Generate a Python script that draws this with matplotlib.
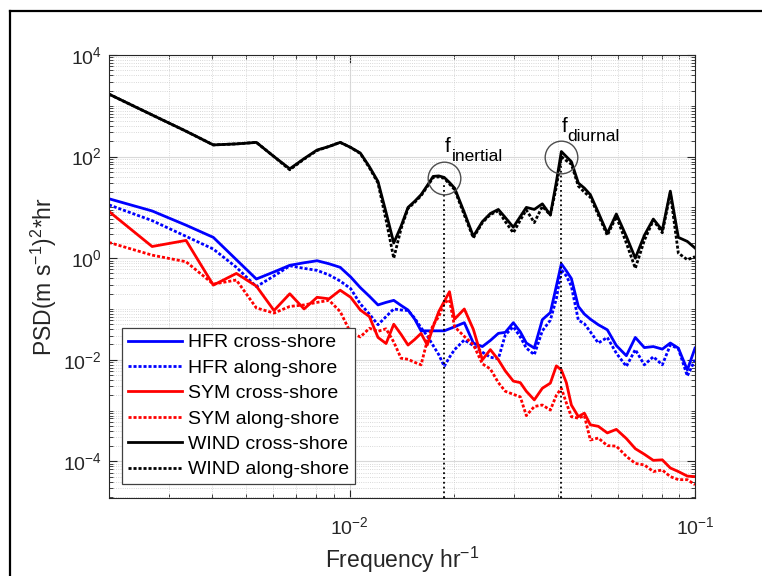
import numpy as np
import matplotlib
matplotlib.use("Agg")
import matplotlib.pyplot as plt
from matplotlib.lines import Line2D
from matplotlib.ticker import LogLocator, NullFormatter

plt.rcParams['font.family'] = 'Liberation Sans'
plt.rcParams['mathtext.default'] = 'regular'

# frequency grid (hr^-1)
freq = [0.00201, 0.00268, 0.00336, 0.00403, 0.00470, 0.00537, 0.00604, 0.00671, 0.00738, 0.00805,
        0.00872, 0.00939, 0.01007, 0.01074, 0.01141, 0.01208, 0.01275, 0.01342, 0.01409, 0.01476,
        0.01543, 0.01610, 0.01678, 0.01745, 0.01812, 0.01879, 0.01946, 0.02013,
        0.02148, 0.02281, 0.02423, 0.02555, 0.02695, 0.02823, 0.02978, 0.03120, 0.03248, 0.03425,
        0.03614, 0.03812, 0.03967, 0.04102, 0.04241, 0.04385, 0.04594, 0.04782, 0.04977, 0.05248,
        0.05573, 0.05918, 0.06326, 0.06716, 0.07133, 0.07573, 0.08040, 0.08482, 0.08947, 0.09500, 0.1]

# log10 of PSD
hfr_cross = [1.17, 0.93, 0.65, 0.41, -0.03, -0.41, -0.27, -0.14, -0.09, -0.05,
             -0.11, -0.18, -0.37, -0.58, -0.75, -0.92, -0.87, -0.83, -0.93, -1.02,
             -1.20, -1.43, -1.43, -1.43, -1.43, -1.43, -1.39, -1.35,
             -1.27, -1.67, -1.74, -1.62, -1.48, -1.46, -1.27, -1.45, -1.67, -1.77,
             -1.21, -1.07, -0.55, -0.11, -0.25, -0.40, -0.95, -1.10, -1.20, -1.31,
             -1.41, -1.72, -1.92, -1.56, -1.76, -1.74, -1.79, -1.67, -1.77, -2.20, -1.77]
hfr_along = [1.05, 0.74, 0.43, 0.18, -0.18, -0.56, -0.35, -0.15, -0.20, -0.24,
             -0.33, -0.45, -0.60, -0.90, -1.10, -1.31, -1.15, -1.00, -1.02, -1.03,
             -1.18, -1.37, -1.53, -1.72, -1.90, -2.13, -1.95, -1.80,
             -1.61, -1.72, -1.85, -1.95, -1.98, -1.51, -1.35, -1.55, -1.77, -1.90,
             -1.43, -1.22, -0.80, -0.23, -0.35, -0.55, -1.22, -1.29, -1.45, -1.67,
             -1.56, -1.87, -2.13, -1.80, -2.10, -1.94, -2.10, -1.71, -1.78, -2.32, -2.00]
sym_cross = [0.92, 0.23, 0.35, -0.53, -0.30, -0.55, -1.03, -0.70, -1.00, -0.77,
             -0.80, -0.63, -0.77, -1.02, -1.15, -1.56, -1.68, -1.30, -1.50, -1.71,
             -1.60, -1.48, -1.71, -1.35, -1.05, -0.85, -0.66, -1.20,
             -1.00, -1.40, -2.00, -1.80, -2.00, -2.22, -2.42, -2.45, -2.62, -2.79,
             -2.56, -2.46, -2.12, -2.20, -2.45, -2.89, -3.12, -3.05, -3.28, -3.31,
             -3.44, -3.37, -3.55, -3.75, -3.86, -3.98, -3.97, -4.13, -4.20, -4.29, -4.30]
sym_along = [0.31, 0.06, -0.07, -0.51, -0.43, -0.98, -1.08, -0.95, -0.92, -0.87,
             -0.83, -1.05, -1.47, -1.55, -1.38, -1.44, -1.39, -1.65, -1.97, -1.99,
             -2.05, -2.10, -1.62, -1.31, -1.15, -0.88, -0.82, -1.35,
             -1.54, -1.70, -2.08, -2.18, -2.45, -2.62, -2.68, -2.73, -3.10, -2.92,
             -2.89, -2.99, -2.70, -2.56, -2.85, -3.12, -3.15, -3.10, -3.58, -3.54,
             -3.69, -3.70, -3.90, -4.04, -4.07, -4.20, -4.17, -4.30, -4.36, -4.36, -4.46]
wind_cross = [3.23, 2.82, 2.50, 2.23, 2.25, 2.28, 2.00, 1.76, 1.96, 2.13,
              2.20, 2.28, 2.18, 2.07, 1.80, 1.51, 0.90, 0.30, 0.63, 1.00,
              1.12, 1.25, 1.43, 1.61, 1.62, 1.59, 1.49, 1.38,
              0.90, 0.43, 0.72, 0.88, 0.96, 0.80, 0.61, 0.82, 1.00, 0.96,
              1.07, 0.85, 1.50, 2.10, 2.00, 1.90, 1.48, 1.38, 1.25, 0.90,
              0.49, 0.87, 0.43, 0.00, 0.45, 0.77, 0.55, 1.32, 0.41, 0.33, 0.20]
wind_along = [3.23, 2.82, 2.50, 2.23, 2.25, 2.28, 2.00, 1.74, 1.95, 2.12,
              2.20, 2.28, 2.18, 2.06, 1.78, 1.48, 0.75, 0.00, 0.58, 0.98,
              1.10, 1.23, 1.41, 1.59, 1.60, 1.57, 1.46, 1.35,
              0.85, 0.40, 0.70, 0.86, 0.93, 0.72, 0.50, 0.75, 0.95, 0.70,
              1.02, 0.85, 1.40, 2.00, 1.92, 1.85, 1.42, 1.30, 1.20, 0.85,
              0.45, 0.82, 0.30, -0.20, 0.35, 0.75, 0.50, 1.28, 0.10, -0.03, 0.03]

labels = ['HFR cross-shore', 'HFR along-shore', 'SYM cross-shore',
          'SYM along-shore', 'WIND cross-shore', 'WIND along-shore']

# marked frequencies and circle centres
f_inertial, p_inertial = 0.01879, 38.0
f_diurnal, p_diurnal = 0.0410, 97.0

fig = plt.figure(figsize=(7.62, 5.76), dpi=100)
ax = fig.add_axes([0.143, 0.1354, 0.7691, 0.7691])

dot = (0, (1.1, 0.7))
series = [(hfr_cross, 'b', '-'), (hfr_along, 'b', dot),
          (sym_cross, 'r', '-'), (sym_along, 'r', dot),
          (wind_cross, 'k', '-'), (wind_along, 'k', dot)]
for (vals, c, ls), lab in zip(series, labels):
    ax.plot(freq, 10 ** np.array(vals), color=c, linestyle=ls, lw=2, label=lab)

ax.set_xscale('log')
ax.set_yscale('log')
ax.set_xlim(0.00201, 0.1)
ax.set_ylim(1.9e-5, 1e4)

# vertical markers and circles
ax.plot([f_inertial, f_inertial], [1.9e-5, 28], color='k', ls=':', lw=1.3)
ax.plot([f_diurnal, f_diurnal], [1.9e-5, 110], color='k', ls=':', lw=1.3)
for fx, py in [(f_inertial, p_inertial), (f_diurnal, p_diurnal)]:
    ax.plot([fx], [py], 'o', ms=23.5, mfc='none', mec='0.3', mew=1.0)
ax.text(0.01885, 124, 'f', fontsize=15, ha='left', va='baseline')
ax.text(0.01975, 82, 'inertial', fontsize=12.5, ha='left', va='baseline')
ax.text(0.0412, 309, 'f', fontsize=15, ha='left', va='baseline')
ax.text(0.0428, 204, 'diurnal', fontsize=12.5, ha='left', va='baseline')

ax.yaxis.set_major_locator(LogLocator(base=100.0))
ax.yaxis.set_minor_locator(LogLocator(base=10.0, subs=np.arange(1, 10), numticks=30))
ax.yaxis.set_minor_formatter(NullFormatter())
ax.xaxis.set_minor_locator(LogLocator(base=10.0, subs=np.arange(2, 10), numticks=30))
ax.xaxis.set_minor_formatter(NullFormatter())

ax.grid(True, which='major', color='0.85', lw=0.8, ls='-')
ax.grid(True, which='minor', color='0.8', lw=0.6, ls=':')
ax.set_axisbelow(True)
ax.tick_params(which='both', direction='in', top=True, right=True, colors='0.15',
               labelsize=14)
ax.tick_params(axis='x', which='major', pad=13)
ax.tick_params(axis='y', which='major', pad=5)
ax.tick_params(which='major', length=6)
ax.tick_params(which='minor', length=3)
for sp in ax.spines.values():
    sp.set_color('0.15')
    sp.set_linewidth(0.8)

ax.set_xlabel('Frequency hr$^{-1}$', fontsize=16.5, color='0.15', labelpad=5)
ax.set_ylabel('PSD(m s$^{-1}$)$^{2}$*hr', fontsize=16.5, color='0.15', labelpad=3)

leg = ax.legend(loc='lower left', bbox_to_anchor=(0.0217, 0.031), borderaxespad=0,
                fontsize=14, handlelength=2.8, labelspacing=0.40, handletextpad=0.3,
                fancybox=False, framealpha=1, edgecolor='0.25', borderpad=0.3)
leg.get_frame().set_linewidth(0.9)

# outer frame of the original screenshot (left and top edges)
fig.add_artist(Line2D([10 / 762, 10 / 762], [0, 1 - 11 / 576], transform=fig.transFigure,
                      color='k', lw=1.6))
fig.add_artist(Line2D([10 / 762, 1], [1 - 11 / 576, 1 - 11 / 576], transform=fig.transFigure,
                      color='k', lw=1.6))

fig.savefig('out.png', dpi=100)
